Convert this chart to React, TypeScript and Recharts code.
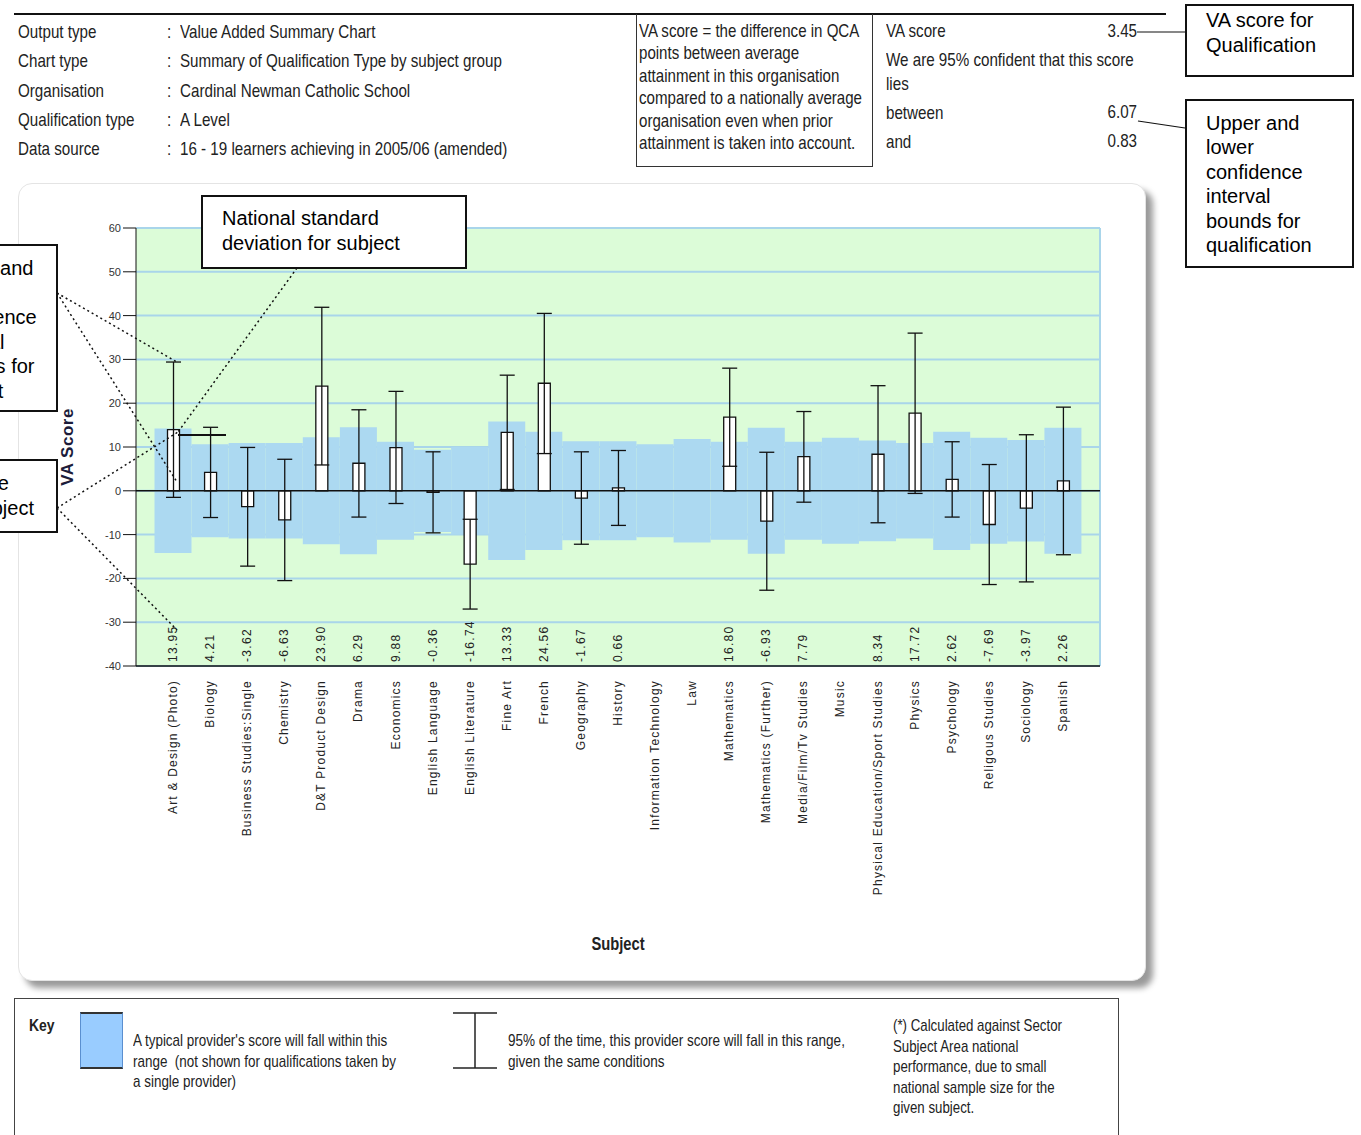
import React from 'react';
import { ComposedChart, Bar, XAxis, YAxis, CartesianGrid, ReferenceLine, ErrorBar, Label } from 'recharts';

const subjects = [
  'Art & Design (Photo)', 'Biology', 'Business Studies:Single', 'Chemistry', 'D&T Product Design',
  'Drama', 'Economics', 'English Language', 'English Literature', 'Fine Art', 'French', 'Geography',
  'History', 'Information Technology', 'Law', 'Mathematics', 'Mathematics (Further)',
  'Media/Film/Tv Studies', 'Music', 'Physical Education/Sport Studies', 'Physics', 'Psychology',
  'Religous Studies', 'Sociology', 'Spanish',
];
// VA score for each subject (null = no score shown)
const vaScores = [
  13.95, 4.21, -3.62, -6.63, 23.9, 6.29, 9.88, -0.36, -16.74, 13.33, 24.56, -1.67,
  0.66, null, null, 16.8, -6.93, 7.79, null, 8.34, 17.72, 2.62, -7.69, -3.97, 2.26,
];
// 95% confidence interval bounds
const upperBounds = [
  29.4, 14.5, 9.9, 7.2, 41.9, 18.5, 22.7, 8.9, -6.5, 26.4, 40.5, 8.9,
  9.2, null, null, 28.0, 8.8, 18.1, null, 24.0, 36.0, 11.2, 6.0, 12.8, 19.1,
];
const lowerBounds = [
  -1.5, -6.1, -17.2, -20.5, 5.9, -6.0, -2.9, -9.6, -27.0, 0.3, 8.5, -12.2,
  -7.9, null, null, 5.6, -22.7, -2.6, null, -7.3, -0.6, -6.0, -21.4, -20.8, -14.6,
];
// national standard deviation per subject (blue band, +/-)
const nationalSd = [
  14.2, 10.6, 10.9, 10.9, 12.2, 14.5, 11.2, 9.4, 10.0, 15.8, 13.5, 11.3,
  11.3, 10.6, 11.8, 11.2, 14.4, 11.2, 12.1, 11.5, 10.9, 13.5, 12.1, 11.6, 14.4,
];
const yTicks = [-40, -30, -20, -10, 0, 10, 20, 30, 40, 50, 60];

const chartData = subjects.map((name, i) => {
  const va = vaScores[i];
  const lo = lowerBounds[i];
  const hi = upperBounds[i];
  return {
    name,
    va,
    ci: va == null || lo == null || hi == null ? null : [va - lo, hi - va],
    band: [-nationalSd[i], nationalSd[i]],
  };
});

const arial = '"Liberation Sans", Arial, sans-serif';
const SQUEEZE = 0.82; // no Arial Narrow installed, so squeeze Arial

const SubjectTick = (props: any) => {
  const { x, y, payload } = props;
  const i = subjects.indexOf(payload.value);
  const v = vaScores[i];
  return (
    <g>
      {v != null && (
        <text
          transform={`translate(${x + 4},${y - 4}) rotate(-90)`}
          textAnchor="start"
          fontSize={12}
          letterSpacing={1.3}
          fontFamily={arial}
          fill="#222"
        >
          {v.toFixed(2)}
        </text>
      )}
      <text
        transform={`translate(${x + 4},${y + 14}) rotate(-90)`}
        textAnchor="end"
        fontSize={12}
        letterSpacing={1.2}
        fontFamily={arial}
        fill="#222"
      >
        {payload.value}
      </text>
    </g>
  );
};

const Box = ({ left, top, width, height, children, style }: any) => (
  <div
    style={{
      position: 'absolute', left, top, width, height, border: '2px solid #111',
      boxSizing: 'border-box', background: '#fff', overflow: 'hidden', ...style,
    }}
  >
    {children}
  </div>
);

// narrow text block: Arial squeezed horizontally
const N = ({ left, top, size = 18.5, lh, right, bold, children }: any) => (
  <div
    style={{
      position: 'absolute',
      left: right ? undefined : left,
      right: right ? 1361 - right : undefined,
      top,
      fontFamily: arial,
      fontSize: size,
      lineHeight: lh ? `${lh}px` : 'normal',
      fontWeight: bold ? 'bold' : 'normal',
      color: '#222',
      whiteSpace: 'nowrap',
      transform: `scaleX(${SQUEEZE})`,
      transformOrigin: right ? 'right top' : 'left top',
    }}
  >
    {children}
  </div>
);

const headerRows = [
  ['Output type', 'Value Added Summary Chart'],
  ['Chart type', 'Summary of Qualification Type by subject group'],
  ['Organisation', 'Cardinal Newman Catholic School'],
  ['Qualification type', 'A Level'],
  ['Data source', '16 - 19 learners achieving in 2005/06 (amended)'],
];

const App = () => {
  return (
    <div style={{ position: 'absolute', left: 0, top: 0, width: 1361, height: 1135, overflow: 'hidden', background: '#fff' }}>
      {/* header */}
      <div style={{ position: 'absolute', left: 14, top: 13, width: 1152, height: 2, background: '#111' }} />
      {headerRows.map((r, i) => (
        <React.Fragment key={r[0]}>
          <N left={18} top={21 + i * 29.3} size={18.5}>{r[0]}</N>
          <N left={167} top={21 + i * 29.3} size={18.5}>:</N>
          <N left={180} top={21 + i * 29.3} size={18.5}>{r[1]}</N>
        </React.Fragment>
      ))}
      <div
        style={{
          position: 'absolute', left: 636, top: 14, width: 237, height: 153, borderLeft: '1px solid #333',
          borderRight: '1px solid #333', borderBottom: '1px solid #333', boxSizing: 'border-box',
        }}
      />
      <N left={639} top={20} size={18.4} lh={22.4}>
        VA score = the difference in QCA<br />points between average<br />attainment in this organisation<br />
        compared to a nationally average<br />organisation even when prior<br />attainment is taken into account.
      </N>
      <N left={886} top={20}>VA score</N>
      <N right={1137} top={20}>3.45</N>
      <N left={886} top={49}>We are 95% confident that this score</N>
      <N left={886} top={73}>lies</N>
      <N left={886} top={102}>between</N>
      <N right={1137} top={101}>6.07</N>
      <N left={886} top={131}>and</N>
      <N right={1137} top={130}>0.83</N>

      <Box left={1185} top={4} width={169} height={73} style={{ fontFamily: arial, fontSize: 20, lineHeight: '24.5px', padding: '2px 0 0 19px' }}>
        VA score for<br />Qualification
      </Box>
      <Box left={1185} top={99} width={169} height={169} style={{ fontFamily: arial, fontSize: 20, lineHeight: '24.4px', padding: '10px 0 0 19px' }}>
        Upper and<br />lower<br />confidence<br />interval<br />bounds for<br />qualification
      </Box>

      {/* chart panel */}
      <div
        style={{
          position: 'absolute', left: 18, top: 183, width: 1128, height: 798, background: '#fff',
          border: '1px solid #e4e4e4', borderRadius: 14, boxSizing: 'border-box',
          boxShadow: '7px 7px 6px rgba(0,0,0,0.4)',
        }}
      />
      <div style={{ position: 'absolute', left: 0, top: 180 }}>
        <ComposedChart
          width={1160}
          height={800}
          data={chartData}
          margin={{ top: 48, right: 60, bottom: 74, left: 86 }}
          barCategoryGap={0}
          barGap={0}
        >
          <CartesianGrid
            fill="#dcfcd8"
            stroke="#a9d5ea"
            strokeWidth={2}
            verticalCoordinatesGenerator={({ offset }: any) => [offset.left + offset.width]}
          />
          <XAxis
            dataKey="name"
            type="category"
            interval={0}
            padding={{ left: 18.5, right: 18.5 }}
            height={240}
            tickSize={0}
            tickMargin={0}
            tickLine={false}
            axisLine={{ stroke: '#111', strokeWidth: 1.5 }}
            tick={<SubjectTick />}
          >
            <Label
              content={({ viewBox }: any) => (
                <text
                  transform={`translate(${viewBox.x + viewBox.width / 2},${viewBox.y + 284}) scale(${SQUEEZE},1)`}
                  textAnchor="middle"
                  fontFamily={arial}
                  fontWeight="bold"
                  fontSize={18}
                  fill="#222"
                >
                  Subject
                </text>
              )}
            />
          </XAxis>
          <XAxis xAxisId="band" dataKey="name" type="category" hide padding={{ left: 18.5, right: 18.5 }} />
          <YAxis
            domain={[-40, 60]}
            ticks={yTicks}
            width={50}
            interval={0}
            tickSize={13}
            tickMargin={2}
            stroke="#111"
            tick={{ fontSize: 11, fontFamily: arial, fill: '#333' }}
          >
            <Label
              content={({ viewBox }: any) => (
                <text
                  transform={`translate(${viewBox.x - 13},${viewBox.y + viewBox.height / 2}) rotate(-90)`}
                  textAnchor="middle"
                  fontFamily={arial}
                  fontWeight="bold"
                  fontSize={17}
                  letterSpacing={0.5}
                  fill="#1c1c3a"
                >
                  VA Score
                </text>
              )}
            />
          </YAxis>
          <Bar xAxisId="band" dataKey="band" fill="#acd9f1" isAnimationActive={false} />
          <ReferenceLine y={0} stroke="#111" strokeWidth={1.5} />
          <Bar dataKey="va" barSize={12} fill="#fff" stroke="#111" strokeWidth={1.3} isAnimationActive={false}>
            <ErrorBar dataKey="ci" width={7.5} stroke="#111" strokeWidth={1.3} direction="y" />
          </Bar>
        </ComposedChart>
      </div>

      {/* callouts */}
      <Box left={201} top={195} width={266} height={74} style={{ fontFamily: arial, fontSize: 20, lineHeight: '24.5px', padding: '9px 0 0 19px' }}>
        National standard<br />deviation for subject
      </Box>
      <Box left={-120} top={244} width={178} height={168} style={{ fontFamily: arial, fontSize: 20, lineHeight: '24.5px', padding: '10px 0 0 58px' }}>
        Upper and<br />lower<br />confidence<br />interval<br />bounds for<br />subject
      </Box>
      <Box left={-120} top={459} width={178} height={74} style={{ fontFamily: arial, fontSize: 20, lineHeight: '24.5px', padding: '10px 22px 0 0', textAlign: 'right' }}>
        <span style={{ marginRight: 25 }}>VA score</span><br />subject
      </Box>
      <svg width={1361} height={1135} style={{ position: 'absolute', left: 0, top: 0, pointerEvents: 'none' }}>
        <g stroke="#111" strokeWidth={1.5} strokeDasharray="2 3" fill="none">
          <line x1={57} y1={293} x2={177} y2={362} />
          <line x1={57} y1={293} x2={177} y2={482} />
          <line x1={57} y1={508} x2={178} y2={432} />
          <line x1={57} y1={508} x2={177} y2={630} />
          <line x1={297} y1={268} x2={178} y2={432} />
        </g>
        <line x1={178} y1={435} x2={226} y2={435} stroke="#111" strokeWidth={2} />
        <line x1={1137} y1={32} x2={1185} y2={32} stroke="#111" strokeWidth={1.2} />
        <line x1={1138} y1={121} x2={1185} y2={128} stroke="#111" strokeWidth={1.2} />
      </svg>

      {/* key */}
      <div style={{ position: 'absolute', left: 14, top: 998, width: 1105, height: 150, border: '1px solid #444', boxSizing: 'border-box' }} />
      <N left={29} top={1016} size={17} bold>Key</N>
      <div style={{ position: 'absolute', left: 80, top: 1012, width: 43, height: 57, background: '#99ccff', borderTop: '2px solid #333', borderBottom: '2px solid #333', borderLeft: '1px solid #5a8fd0', borderRight: '1px solid #5a8fd0', boxSizing: 'border-box' }} />
      <N left={133} top={1030} size={16.4} lh={20.5}>
        A typical provider's score will fall within this<br />range&nbsp; (not shown for qualifications taken by<br />a single provider)
      </N>
      <svg width={50} height={60} style={{ position: 'absolute', left: 450, top: 1010 }}>
        <g stroke="#222" strokeWidth={1.5}>
          <line x1={3} y1={3} x2={47} y2={3} />
          <line x1={25} y1={3} x2={25} y2={58} />
          <line x1={3} y1={58} x2={47} y2={58} />
        </g>
      </svg>
      <N left={508} top={1030} size={16.5} lh={20.5}>
        95% of the time, this provider score will fall in this range,<br />given the same conditions
      </N>
      <N left={893} top={1015} size={16.2} lh={20.5}>
        (*) Calculated against Sector<br />Subject Area national<br />performance, due to small<br />national sample size for the<br />given subject.
      </N>
    </div>
  );
};

export default App;
